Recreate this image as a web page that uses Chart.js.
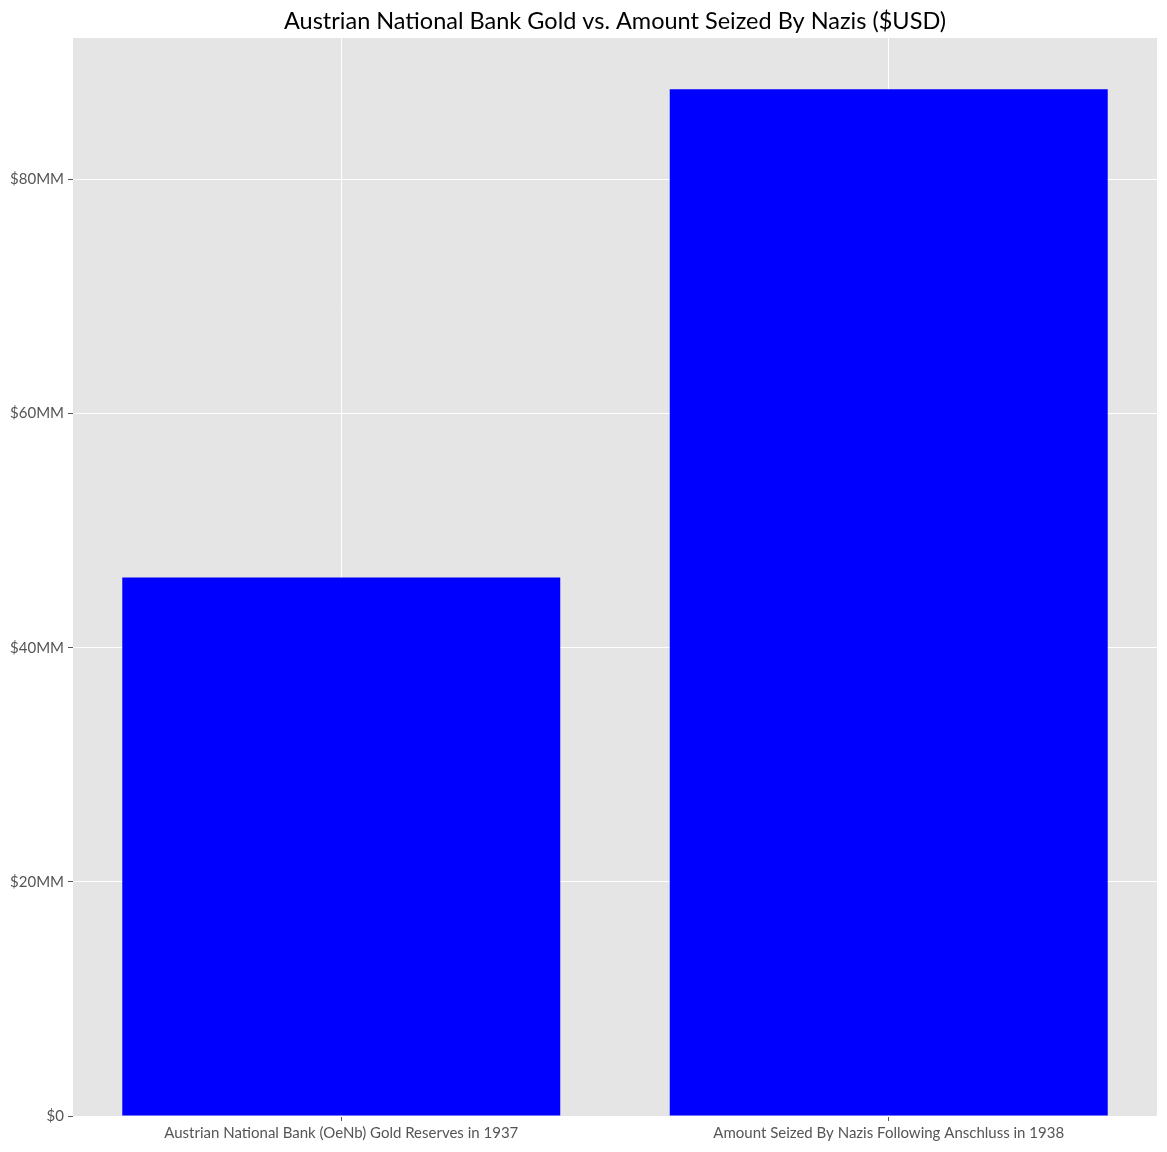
<!DOCTYPE html>
<html>
<head>
<meta charset="utf-8">
<script src="https://cdn.jsdelivr.net/npm/chart.js@4/dist/chart.umd.min.js"></script>
<style>
  body { margin: 0; background: #fff; }
  #wrap { width: 1167px; height: 1152px; }
</style>
</head>
<body>
<div id="wrap"><canvas id="gold_chart"></canvas></div>
<script>
// values in millions of USD
let categories = ["Austrian National Bank (OeNb) Gold Reserves in 1937", "Amount Seized By Nazis Following Anschluss in 1938"]
let amounts = [46.0, 87.7]
let y_ticks = [0, 20, 40, 60, 80]
let chart_title = 'Austrian National Bank Gold vs. Amount Seized By Nazis ($USD)'

let y_max = Math.max(...amounts) * 1.05

let plot_bg = {
    id: 'plot_bg',
    beforeDraw(chart) {
        let a = chart.chartArea
        let ctx = chart.ctx
        ctx.save()
        ctx.fillStyle = '#e5e5e5'
        ctx.fillRect(a.left, a.top, a.right - a.left, a.bottom - a.top)
        ctx.restore()
    }
}

// title centred over the plot area, like matplotlib does it
let axes_title = {
    id: 'axes_title',
    afterDraw(chart) {
        let a = chart.chartArea
        let ctx = chart.ctx
        ctx.save()
        ctx.fillStyle = '#000'
        ctx.font = '23.5px Lato'
        ctx.textAlign = 'center'
        ctx.textBaseline = 'middle'
        ctx.fillText(chart_title, (a.left + a.right) / 2, 21)
        ctx.restore()
    }
}

let ctx = document.querySelector('#gold_chart').getContext('2d')

let gold_chart = new Chart(ctx, {
    type: 'bar',
    data: {
        datasets: [{
            data: amounts.map((v, i) => ({ x: i, y: v })),
            backgroundColor: '#0000ff',
            borderWidth: 0,
            barPercentage: 0.8,
            categoryPercentage: 1
        }]
    },
    options: {
        responsive: true,
        maintainAspectRatio: false,
        animation: false,
        layout: { padding: { right: 10, left: 0, top: 38, bottom: 0 } },
        plugins: {
            legend: { display: false },
            tooltip: { enabled: false },
            title: { display: false }
        },
        scales: {
            x: {
                type: 'linear',
                min: -0.49,
                max: 1.49,
                offset: false,
                afterBuildTicks: axis => { axis.ticks = categories.map((c, i) => ({ value: i })) },
                afterFit: axis => { axis.height = 36 },
                ticks: {
                    callback: v => categories[v],
                    color: '#555',
                    font: { family: 'Lato', size: 15 },
                    padding: 3,
                    maxRotation: 0,
                    autoSkip: false
                },
                grid: { offset: false, color: '#fff', lineWidth: 1, tickColor: '#555', tickLength: 5 },
                border: { display: false }
            },
            y: {
                min: 0,
                max: y_max,
                afterBuildTicks: axis => { axis.ticks = y_ticks.map(v => ({ value: v })) },
                afterFit: axis => { axis.width = 73 },
                ticks: {
                    callback: v => v === 0 ? '$0' : '$' + v + 'MM',
                    color: '#555',
                    font: { family: 'Lato', size: 15 },
                    padding: 4
                },
                grid: { color: '#fff', lineWidth: 1, tickColor: '#555', tickLength: 5 },
                border: { display: false }
            }
        }
    },
    plugins: [plot_bg, axes_title]
})
</script>
</body>
</html>
